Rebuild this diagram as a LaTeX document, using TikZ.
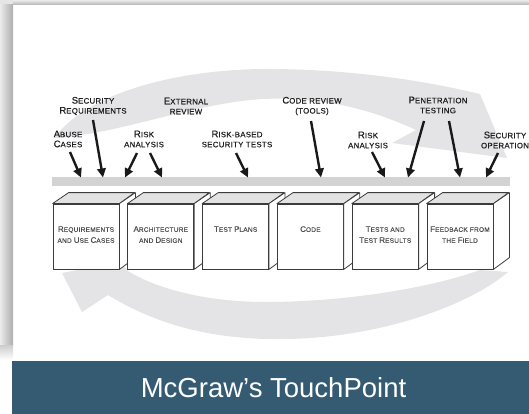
\documentclass[tikz,border=0pt]{standalone}
\usepackage{fontspec}
\setmainfont{Liberation Sans}
\newfontfamily\labfont[LetterSpace=4,FakeBold=0.6]{Liberation Sans}
\newfontfamily\boxfont[LetterSpace=4,FakeBold=0.3]{Liberation Sans}
\usetikzlibrary{arrows.meta}

\definecolor{bandgray}{HTML}{E4E4E6}
\definecolor{bargray}{HTML}{D3D3D3}
\definecolor{topface}{HTML}{E2E2E2}
\definecolor{edgegray}{HTML}{3C3C3C}
\definecolor{titleblue}{HTML}{355B73}
\definecolor{boxtext}{HTML}{505050}

% small-cap initials for the step labels and the box labels
\newcommand\C[1]{{\fontsize{9.5}{10}\selectfont #1}}
\newcommand\Cb[1]{{\fontsize{8}{11}\selectfont #1}}

\tikzset{
  lab/.style={font=\labfont\fontsize{7.8}{10}\selectfont, text=black!88, align=center, inner sep=0},
  boxlab/.style={font=\boxfont\fontsize{6.5}{11}\selectfont, text=boxtext, align=center, inner sep=0},
  front/.style={draw=edgegray, fill=white, line width=0.8pt, minimum width=66pt, minimum height=65pt, inner sep=0},
  face/.style={draw=edgegray, line width=0.8pt, line join=round},
  arr/.style={line width=2.4pt, black!90, -{Triangle[length=9pt,width=8.5pt]}},
}

\begin{document}
\begin{tikzpicture}[x=1pt,y=-1pt]
\useasboundingbox (0,0) rectangle (529,414);

% card shadow along the top and left edges
\fill[black!10] (0,0) rectangle (13,5);
\shade[top color=black!8, bottom color=black!30] (13,0) rectangle (529,5);
\shade[left color=black!8, right color=black!32] (0,5) rectangle (13,345);
\shade[top color=black!20, bottom color=white] (0,345) rectangle (13,360);

% upper cycle arrow (left to right)
\fill[bandgray] (54,138) .. controls (92,88) and (190,68) .. (275,69)
  .. controls (360,70) and (430,82) .. (480,94)
  -- (507,158) -- (392,143) -- (416,130)
  .. controls (360,104) and (310,97) .. (262,99)
  .. controls (190,104) and (120,134) .. (54,138) -- cycle;

% lower cycle arrow (right to left)
\fill[bandgray] (62,273) -- (82,312) -- (108,295)
  .. controls (165,330) and (225,340) .. (285,339)
  .. controls (380,338) and (470,305) .. (508,272)
  -- (480,270)
  .. controls (430,288) and (345,302) .. (265,302)
  .. controls (205,302) and (155,288) .. (128,271)
  -- (120,262) -- cycle;

% timeline bar
\node[fill=bargray, minimum width=458pt, minimum height=9pt, inner sep=0] (bar) at (281,181.5) {};

% artifact boxes
\foreach \i/\txt in {
  1/{\Cb{R}EQUIREMENTS\\AND \Cb{U}SE \Cb{C}ASES},
  2/{\Cb{A}RCHITECTURE\\AND \Cb{D}ESIGN},
  3/{\Cb{T}EST \Cb{P}LANS},
  4/{\Cb{C}ODE},
  5/{\Cb{T}ESTS AND\\\Cb{T}EST \Cb{R}ESULTS},
  6/{\Cb{F}EEDBACK FROM\\THE \Cb{F}IELD}} {
  \node[front] (b\i) at ({86+74.8*(\i-1)},236.5) {};
  \filldraw[face, fill=topface] (b\i.north west) -- ++(16,-11) -- ++(66,0) -- (b\i.north east) -- cycle;
  \filldraw[face, fill=white] (b\i.north east) -- ++(16,-11) -- ++(0,65) -- (b\i.south east) -- cycle;
  \node[boxlab, below=22.5pt] (t\i) at (b\i.north) {\txt};
}

% touchpoint labels
\node[lab] (abuse) at (68,139) {\C{A}BUSE\\\C{C}ASES};
\node[lab] (secreq) at (93,106) {\C{S}ECURITY\\\C{R}EQUIREMENTS};
\node[lab] (extrev) at (186,106) {\C{E}XTERNAL\\REVIEW};
\node[lab] (riska) at (144,139) {\C{R}ISK\\ANALYSIS};
\node[lab] (riskb) at (237,139) {\C{R}ISK-BASED\\SECURITY TESTS};
\node[lab] (code) at (312,106) {\C{C}ODE REVIEW\\(TOOLS)};
\node[lab] (riskc) at (368,140) {\C{R}ISK\\ANALYSIS};
\node[lab] (pen) at (438,105) {\C{P}ENETRATION\\TESTING};
\node[lab] (secop) at (505,140) {\C{S}ECURITY\\OPERATION};

% arrow ends
\coordinate (s1) at (70,152);  \coordinate (e1) at (81,177.5);
\coordinate (s2) at (93,120);  \coordinate (e2) at (103,177.5);
\coordinate (s3) at (137,153); \coordinate (e3) at (125,177.5);
\coordinate (s4) at (150,153); \coordinate (e4) at (162,177.5);
\coordinate (s5) at (236,153); \coordinate (e5) at (248,177.5);
\coordinate (s6) at (311,121); \coordinate (e6) at (321,177.5);
\coordinate (s7) at (372,152); \coordinate (e7) at (385,177.5);
\coordinate (s8) at (424,121); \coordinate (e8) at (408,177.5);
\coordinate (s9) at (449,121); \coordinate (e9) at (460,177.5);
\coordinate (s10) at (498,153); \coordinate (e10) at (486,177.5);
\foreach \k in {1,...,10} { \draw[arr] (s\k) -- (e\k); }

% caption band
\fill[titleblue] (12,361) rectangle (529,414);
\node[font=\fontsize{27.5}{30}\selectfont, text=white, inner sep=0] (title) at (273.5,387.5) {McGraw’s TouchPoint};
\end{tikzpicture}
\end{document}
